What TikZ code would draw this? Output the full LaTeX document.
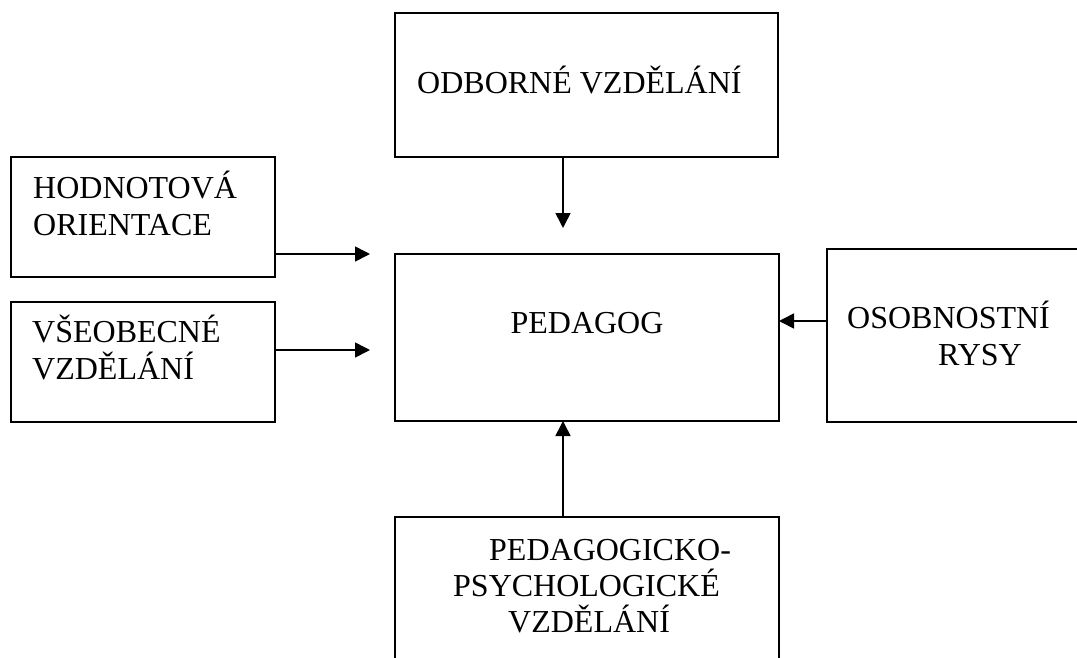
\documentclass[tikz,border=0pt]{standalone}
\usepackage{fontspec}
\setmainfont{Liberation Serif}
\usetikzlibrary{arrows.meta}
\begin{document}
\begin{tikzpicture}[x=1pt,y=-1pt,
  box/.style={draw,line width=1.6pt,inner sep=0pt,outer sep=0pt,anchor=north west},
  lbl/.style={anchor=base west,inner sep=0pt,font=\fontsize{32}{36}\selectfont},
  conn/.style={line width=1.6pt,-{Triangle[length=15pt,width=15pt]}}]
\useasboundingbox (0,0) rectangle (1077,657);
\clip (0,0) rectangle (1077,657);
% boxes
\node[box,minimum width=383pt,minimum height=144pt] (odb) at (395,13) {};
\node[box,minimum width=384pt,minimum height=167pt] (ped) at (395,254) {};
\node[box,minimum width=270pt,minimum height=173pt] (osob) at (827,249) {};
\node[box,minimum width=264pt,minimum height=120pt] (hod) at (11,157) {};
\node[box,minimum width=264pt,minimum height=120pt] (vse) at (11,302) {};
\node[box,minimum width=384pt,minimum height=170pt] (psy) at (395,517) {};
% texts
\node[lbl] (todb) at (417,93) {ODBORNÉ VZDĚLÁNÍ};
\node[lbl,anchor=base] (tped) at (587,333) {PEDAGOG};
\node[lbl] (tosob1) at (847,328) {OSOBNOSTNÍ};
\node[lbl] (tosob2) at (938,365) {RYSY};
\node[lbl] (thod1) at (33,198) {HODNOTOVÁ};
\node[lbl] (thod2) at (33,235) {ORIENTACE};
\node[lbl] (tvse1) at (32,342) {VŠEOBECNÉ};
\node[lbl] (tvse2) at (32,379) {VZDĚLÁNÍ};
\node[lbl] (tpsy1) at (489,560) {PEDAGOGICKO-};
\node[lbl] (tpsy2) at (453,596) {PSYCHOLOGICKÉ};
\node[lbl] (tpsy3) at (508,632) {VZDĚLÁNÍ};
% connectors
\coordinate (xa) at (563,0);
\coordinate (enda) at (563,228);
\coordinate (endh) at (370,254);
\coordinate (endv) at (370,350);
\coordinate (yo) at (0,321);
\draw[conn] (odb.south -| xa) -- (enda);
\draw[conn] (hod.east |- endh) -- (endh);
\draw[conn] (vse.east |- endv) -- (endv);
\draw[conn] (osob.west |- yo) -- (ped.east |- yo);
\draw[conn] (psy.north -| xa) -- (ped.south -| xa);
\end{tikzpicture}
\end{document}
